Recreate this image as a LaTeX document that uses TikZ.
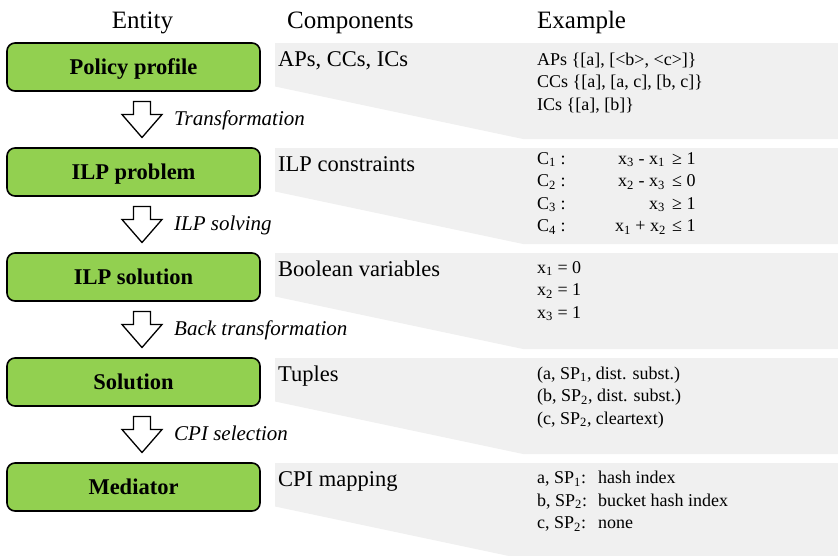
\documentclass[tikz,border=0pt]{standalone}
\usepackage{fontspec}
\setmainfont{Liberation Serif}
\usetikzlibrary{calc}
\definecolor{boxgreen}{HTML}{92D050}
\definecolor{panelgray}{HTML}{F0F0F0}

\begin{document}
\begin{tikzpicture}[x=1pt,y=-1pt,
  entity/.style={draw=black, line width=1.6pt, fill=boxgreen, rounded corners=8pt,
    minimum width=253pt, minimum height=48pt, inner sep=0pt,
    text height=15pt, text depth=0pt, font=\fontsize{22.5}{27}\selectfont\bfseries},
  header/.style={inner sep=0pt, font=\fontsize{25}{30}\selectfont},
  comp/.style={anchor=base west, inner sep=0pt, font=\fontsize{22.5}{27}\selectfont},
  example/.style={anchor=base west, inner sep=0pt, font=\fontsize{18}{22.5}\selectfont},
  steplabel/.style={anchor=base west, inner sep=0pt, font=\fontsize{21}{25}\selectfont\itshape},
  panel/.style={fill=panelgray, draw=none},
  hollow/.style={draw=black, line width=1.3pt, fill=white, line join=miter},
  pics/downarrow/.style={code={
    \draw[hollow] (-8.5,-18) -- (8.5,-18) -- (8.5,-5) -- (20,-5) -- (0,18)
      -- (-20,-5) -- (-8.5,-5) -- cycle;}},
]
\useasboundingbox (0,0) rectangle (838,555);

% grey panels behind the component and example columns
\begin{scope}
  \clip (0,0) rectangle (838,555);
  \foreach \t in {43,148,253,358,463}
    \fill[panel] (275,\t) -- (838,\t) -- (838,\t+96) -- (523,\t+96)
      -- (275,\t+43.5) -- cycle;
\end{scope}

% column headers
\node[header, anchor=base] (hEntity) at (142.5,28) {Entity};
\node[header, anchor=base west] (hComp) at (287,28) {Components};
\node[header, anchor=base west] (hEx) at (537,28) {Example};

% entities
\node[entity] (policy) at (133.5,67)  {Policy profile};
\node[entity] (ilpp)   at (133.5,172) {ILP problem};
\node[entity] (ilps)   at (133.5,277) {ILP solution};
\node[entity] (sol)    at (133.5,382) {Solution};
\node[entity] (med)    at (133.5,487) {Mediator};

% transitions between entities
\coordinate (m1) at ($(policy.south)!0.5!(ilpp.north)+(8.5,0)$);
\coordinate (m2) at ($(ilpp.south)!0.5!(ilps.north)+(8.5,0)$);
\coordinate (m3) at ($(ilps.south)!0.5!(sol.north)+(8.5,0)$);
\coordinate (m4) at ($(sol.south)!0.5!(med.north)+(8.5,0)$);
\pic at (m1) {downarrow};
\pic at (m2) {downarrow};
\pic at (m3) {downarrow};
\pic at (m4) {downarrow};
\node[steplabel] (l1) at ($(m1)+(32,5.5)$) {Transformation};
\node[steplabel] (l2) at ($(m2)+(32,5.5)$) {ILP solving};
\node[steplabel] (l3) at ($(m3)+(32,5.5)$) {Back transformation};
\node[steplabel] (l4) at ($(m4)+(32,5.5)$) {CPI selection};

% components
\node[comp] (k1) at (278,66)  {APs, CCs, ICs};
\node[comp] (k2) at (278,171) {ILP constraints};
\node[comp] (k3) at (278,276) {Boolean variables};
\node[comp] (k4) at (278,381) {Tuples};
\node[comp] (k5) at (278,486) {CPI mapping};

% examples: policy profile
\node[example] (e1a) at (537,65)    {APs \{[a], [<b>, <c>]\}};
\node[example] (e1b) at (537,87.5)  {CCs \{[a], [a, c], [b, c]\}};
\node[example] (e1c) at (537,110)   {ICs \{[a], [b]\}};

% examples: ILP constraints
\node[example] (c1) at (537,164)   {C\textsubscript{1} :};
\node[example] (c2) at (537,186.5) {C\textsubscript{2} :};
\node[example] (c3) at (537,209)   {C\textsubscript{3} :};
\node[example] (c4) at (537,231.5) {C\textsubscript{4} :};
\node[example, anchor=base east] (c1l) at (665,164)   {x\textsubscript{3} - x\textsubscript{1}};
\node[example, anchor=base east] (c2l) at (665,186.5) {x\textsubscript{2} - x\textsubscript{3}};
\node[example, anchor=base east] (c3l) at (665,209)   {x\textsubscript{3}};
\node[example, anchor=base east] (c4l) at (666,231.5) {x\textsubscript{1} + x\textsubscript{2}};
\node[example] (c1r) at (672,164)   {≥ 1};
\node[example] (c2r) at (672,186.5) {≤ 0};
\node[example] (c3r) at (672,209)   {≥ 1};
\node[example] (c4r) at (672,231.5) {≤ 1};

% examples: ILP solution
\node[example] (e3a) at (537,273)   {x\textsubscript{1} = 0};
\node[example] (e3b) at (537,295.5) {x\textsubscript{2} = 1};
\node[example] (e3c) at (537,318)   {x\textsubscript{3} = 1};

% examples: solution tuples
\node[example] (e4a) at (537,379)   {(a, SP\textsubscript{1}, dist. subst.)};
\node[example] (e4b) at (537,401.5) {(b, SP\textsubscript{2}, dist. subst.)};
\node[example] (e4c) at (537,424)   {(c, SP\textsubscript{2}, cleartext)};

% examples: CPI mapping
\node[example] (e5a) at (537,483.5) {a, SP\textsubscript{1}:};
\node[example] (e5b) at (537,506)   {b, SP\textsubscript{2}:};
\node[example] (e5c) at (537,528.5) {c, SP\textsubscript{2}:};
\node[example] (f5a) at (598,483.5) {hash index};
\node[example] (f5b) at (598,506)   {bucket hash index};
\node[example] (f5c) at (598,528.5) {none};
\end{tikzpicture}
\end{document}
